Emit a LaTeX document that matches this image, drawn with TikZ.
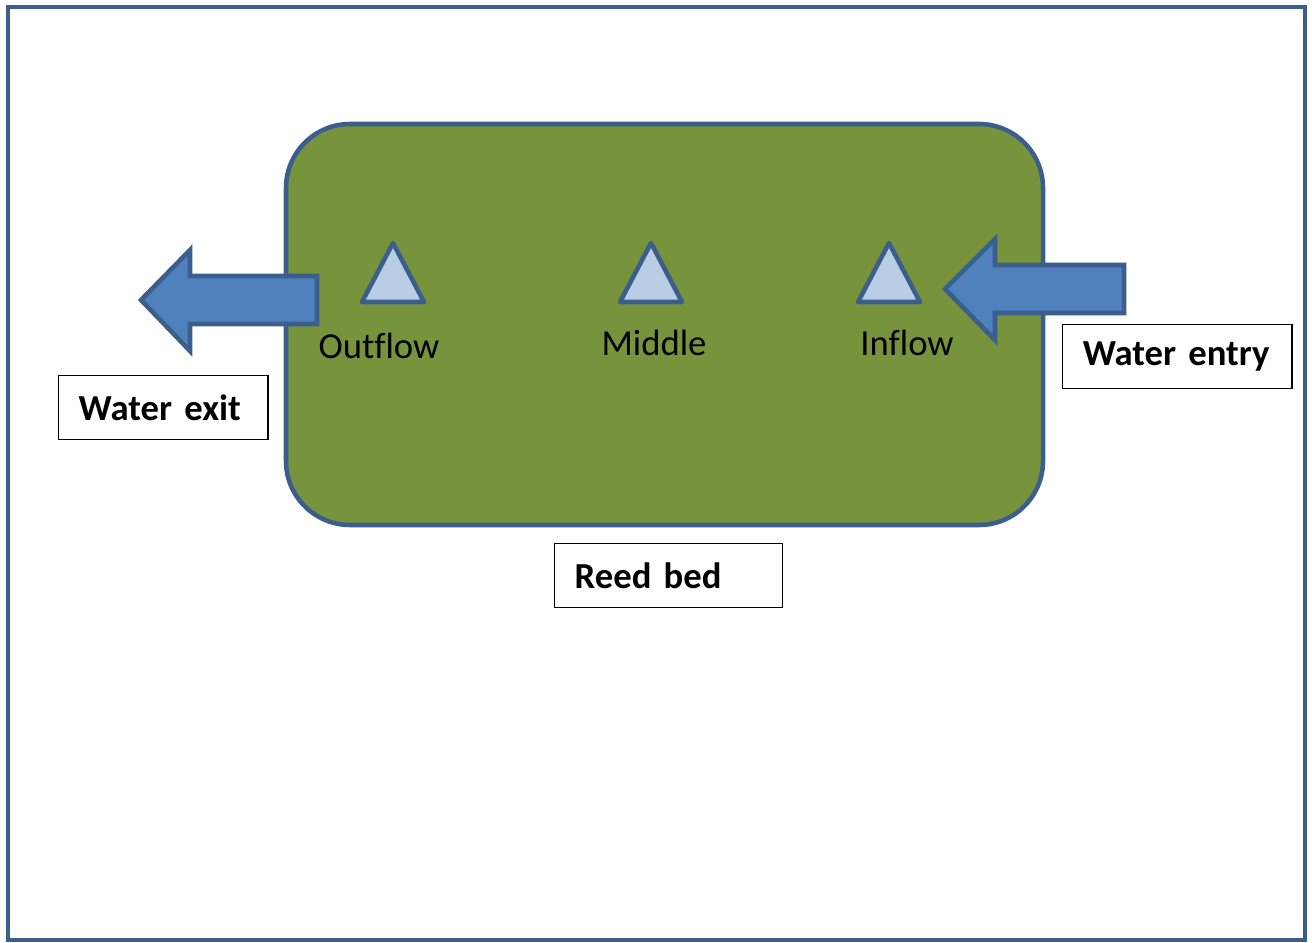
\documentclass[tikz,border=0pt]{standalone}
\usepackage{fontspec}
\setmainfont[Ligatures=NoCommon]{Carlito}
\usetikzlibrary{positioning,calc}

\definecolor{frameblue}{HTML}{3B5E8C}
\definecolor{bedgreen}{HTML}{77933C}
\definecolor{arrowblue}{HTML}{4F81BD}
\definecolor{lightblue}{HTML}{B9CDE5}

\begin{document}
\begin{tikzpicture}[
    x=0.75pt, y=-0.75pt,
    font=\fontsize{27.5}{32}\selectfont,
    bed/.style={draw=frameblue, fill=bedgreen, line width=3.4pt, rounded corners=48pt},
    blockarrow/.style={draw=frameblue, fill=arrowblue, line width=3.4pt, line join=miter},
    marker/.style={draw=frameblue, fill=lightblue, line width=3.4pt, line join=round},
    tag/.style={draw=black, fill=white, line width=1.1pt, align=left,
        inner xsep=15pt, minimum height=48pt, font=\fontsize{27.5}{32}\selectfont\bfseries},
    sitelabel/.style={inner sep=0pt, anchor=base}
]
\useasboundingbox (0,0) rectangle (1312,942);
% outer frame
\draw[frameblue, line width=3pt] (8,7.5) rectangle (1305,940);

% reed bed
\draw[bed] (286,124) rectangle (1043,525);

% sampling points
\foreach \px/\lx/\ly/\name in {393/379/358/Outflow, 651/654/355/Middle, 889/907/355/Inflow} {
    \draw[marker] (\px,243) -- (\px+31,302) -- (\px-31,302) -- cycle;
    \node[sitelabel] (\name) at (\lx,\ly) {\name};
}

% flow arrows
\draw[blockarrow] (317,276) -- (190,276) -- (190,250) -- (141,300)
    -- (190,351) -- (190,324) -- (317,324) -- cycle;
\draw[blockarrow] (1124,265) -- (995,265) -- (995,239) -- (945,289)
    -- (995,340) -- (995,313) -- (1124,313) -- cycle;

% text boxes
\node[tag, text width=127pt, anchor=north west] (exit) at (58,375) {Water exit};
\node[tag, text width=142pt, anchor=north west] (entry) at (1062,324) {Water entry};
\node[tag, text width=141pt, anchor=north west] (reedbed) at (554,543) {Reed bed};
\end{tikzpicture}
\end{document}
